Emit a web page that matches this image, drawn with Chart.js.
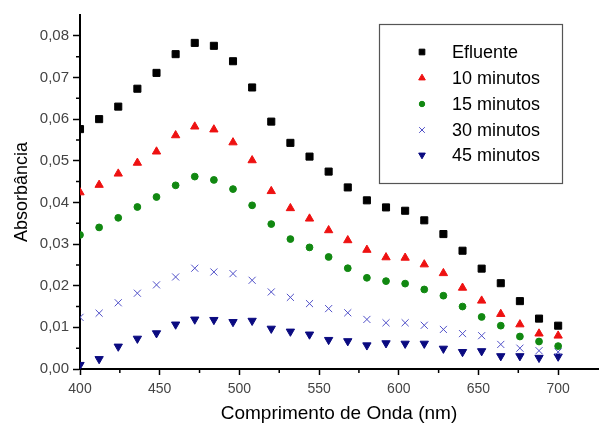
<!DOCTYPE html>
<html>
<head>
<meta charset="utf-8">
<script src="https://cdn.jsdelivr.net/npm/chart.js@4.4.1/dist/chart.umd.min.js"></script>
<style>
  html, body { margin: 0; padding: 0; background: #fff; }
  #wrap { width: 604px; height: 425px; }
</style>
</head>
<body>
<div id="wrap"><canvas id="chart" width="604" height="425"></canvas></div>
<script>
// wavelengths (nm)
const wavelengths = [400, 412, 424, 436, 448, 460, 472, 484, 496, 508, 520, 532, 544,
                     556, 568, 580, 592, 604, 616, 628, 640, 652, 664, 676, 688, 700];

const efluente = [0.0576, 0.0600, 0.0630, 0.0673, 0.0711, 0.0756, 0.0783, 0.0776, 0.0739, 0.0676,
                  0.0594, 0.0543, 0.0510, 0.0474, 0.0436, 0.0405, 0.0388, 0.0380, 0.0357, 0.0324,
                  0.0284, 0.0241, 0.0206, 0.0163, 0.0121, 0.0104];
const min10 = [0.0424, 0.0442, 0.0469, 0.0495, 0.0522, 0.0561, 0.0582, 0.0575, 0.0544, 0.0501,
               0.0427, 0.0386, 0.0361, 0.0333, 0.0309, 0.0286, 0.0268, 0.0267, 0.0251, 0.0230,
               0.0195, 0.0164, 0.0132, 0.0107, 0.0085, 0.0080];
const min15 = [0.0322, 0.0340, 0.0363, 0.0389, 0.0413, 0.0441, 0.0462, 0.0454, 0.0432, 0.0393,
               0.0348, 0.0312, 0.0292, 0.0269, 0.0242, 0.0219, 0.0211, 0.0205, 0.0191, 0.0176,
               0.0150, 0.0125, 0.0104, 0.0078, 0.0066, 0.0055];
const min30 = [0.0124, 0.0134, 0.0159, 0.0182, 0.0202, 0.0221, 0.0242, 0.0233, 0.0229, 0.0213,
               0.0185, 0.0172, 0.0157, 0.0145, 0.0135, 0.0119, 0.0111, 0.0111, 0.0105, 0.0095,
               0.0085, 0.0080, 0.0059, 0.0050, 0.0044, 0.0041];
const min45 = [0.0010, 0.0024, 0.0054, 0.0073, 0.0086, 0.0107, 0.0119, 0.0118, 0.0113, 0.0116,
               0.0097, 0.0090, 0.0083, 0.0070, 0.0067, 0.0057, 0.0062, 0.0061, 0.0061, 0.0049,
               0.0041, 0.0043, 0.0031, 0.0031, 0.0027, 0.0030];

const xTicks = [400, 450, 500, 550, 600, 650, 700];
const xMinor = [425, 475, 525, 575, 625, 675];
const yTicks = [0, 0.01, 0.02, 0.03, 0.04, 0.05, 0.06, 0.07, 0.08];
const yMinor = [0.005, 0.015, 0.025, 0.035, 0.045, 0.055, 0.065, 0.075];

function pts(values) {
    return wavelengths.map((w, i) => ({ x: w, y: values[i] }));
}

const series = [
    { label: 'Efluente',   data: efluente, color: '#000000', style: 'rect',     radius: 5,   rot: 0,   width: 1 },
    { label: '10 minutos', data: min10,    color: '#ee1111', style: 'triangle', radius: 4.8, rot: 0,   width: 1 },
    { label: '15 minutos', data: min15,    color: '#118811', style: 'circle',   radius: 3.4, rot: 0,   width: 1 },
    { label: '30 minutos', data: min30,    color: '#5050c8', style: 'crossRot', radius: 5,   rot: 0,   width: 1 },
    { label: '45 minutos', data: min45,    color: '#0a0a80', style: 'triangle', radius: 4.8, rot: 180, width: 1 }
];

// minor ticks and legend box
const extras = {
    id: 'extras',
    afterDraw(chart) {
        const ctx = chart.ctx;
        const xs = chart.scales.x, ys = chart.scales.y;
        const area = chart.chartArea;
        ctx.save();
        ctx.strokeStyle = '#000';
        ctx.lineWidth = 1.5;
        ctx.beginPath();
        xMinor.forEach(v => {
            const px = xs.getPixelForValue(v);
            ctx.moveTo(px, area.bottom);
            ctx.lineTo(px, area.bottom + 4);
        });
        yMinor.forEach(v => {
            const py = ys.getPixelForValue(v);
            ctx.moveTo(area.left, py);
            ctx.lineTo(area.left - 4, py);
        });
        ctx.stroke();

        // legend
        ctx.fillStyle = '#fff';
        ctx.fillRect(379, 24, 183, 159);
        ctx.strokeStyle = '#555';
        ctx.lineWidth = 1.2;
        ctx.strokeRect(379.5, 24.5, 183, 159);
        ctx.font = '18px "Liberation Sans", Arial, sans-serif';
        ctx.textBaseline = 'middle';
        ctx.textAlign = 'left';
        const rows = [52, 78, 104, 130, 155];
        series.forEach((s, i) => {
            ctx.fillStyle = s.color;
            ctx.strokeStyle = s.color;
            ctx.lineWidth = s.width;
            Chart.helpers.drawPoint(ctx, { pointStyle: s.style, radius: s.radius * 0.8, rotation: s.rot, borderWidth: s.width },
                422, rows[i]);
            ctx.fillStyle = '#000';
            ctx.fillText(s.label, 452, rows[i] + 1);
        });
        ctx.restore();
    }
};

const ctx = document.getElementById('chart').getContext('2d');
new Chart(ctx, {
    type: 'scatter',
    data: {
        datasets: series.map(s => ({
            label: s.label,
            data: pts(s.data),
            pointStyle: s.style,
            pointRadius: s.radius,
            pointRotation: s.rot,
            pointBackgroundColor: s.color,
            pointBorderColor: s.color,
            pointBorderWidth: s.width,
            showLine: false
        }))
    },
    options: {
        responsive: false,
        animation: false,
        layout: { padding: { top: 15, right: 0, left: 0, bottom: 0 } },
        plugins: { legend: { display: false }, tooltip: { enabled: false } },
        scales: {
            x: {
                type: 'linear',
                min: 400,
                max: 725,
                afterBuildTicks: s => { s.ticks = xTicks.map(v => ({ value: v })); },
                afterFit: s => { s.height = 56; },
                grid: { drawOnChartArea: false, tickLength: 6, tickColor: '#000', tickWidth: 1.5 },
                border: { color: '#000', width: 2 },
                ticks: {
                    color: '#444',
                    padding: 6,
                    font: { family: '"Liberation Sans", Arial, sans-serif', size: 14 }
                },
                title: {
                    display: true,
                    text: 'Comprimento de Onda (nm)',
                    color: '#000',
                    font: { family: '"Liberation Sans", Arial, sans-serif', size: 19 },
                    padding: { top: 0, bottom: 0 }
                }
            },
            y: {
                type: 'linear',
                min: 0,
                max: 0.085,
                afterBuildTicks: s => { s.ticks = yTicks.map(v => ({ value: v })); },
                afterFit: s => { s.width = 80; },
                grid: { drawOnChartArea: false, tickLength: 7, tickColor: '#000', tickWidth: 1.5 },
                border: { color: '#000', width: 2 },
                ticks: {
                    color: '#444',
                    padding: 4,
                    font: { family: '"Liberation Sans", Arial, sans-serif', size: 15 },
                    callback: v => v.toFixed(2).replace('.', ',')
                },
                title: {
                    display: true,
                    text: 'Absorbância',
                    color: '#000',
                    font: { family: '"Liberation Sans", Arial, sans-serif', size: 18 },
                    padding: { top: 11, bottom: 0 }
                }
            }
        }
    },
    plugins: [extras]
});
</script>
</body>
</html>
